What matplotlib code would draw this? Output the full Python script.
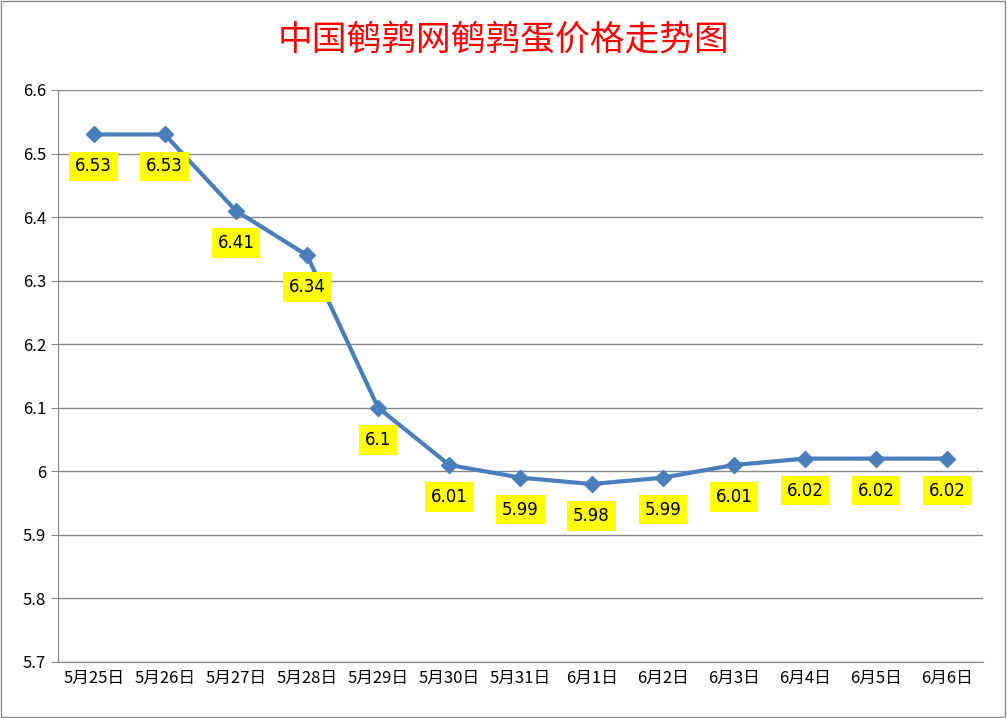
import matplotlib
matplotlib.use("Agg")
import matplotlib.pyplot as plt
from matplotlib.patches import Rectangle

plt.rcParams['font.family'] = ['Noto Sans CJK SC', 'DejaVu Sans']

dates = ["5月25日", "5月26日", "5月27日", "5月28日", "5月29日", "5月30日", "5月31日",
         "6月1日", "6月2日", "6月3日", "6月4日", "6月5日", "6月6日"]
prices = [6.53, 6.53, 6.41, 6.34, 6.1, 6.01, 5.99, 5.98, 5.99, 6.01, 6.02, 6.02, 6.02]
labels = ["6.53", "6.53", "6.41", "6.34", "6.1", "6.01", "5.99", "5.98", "5.99", "6.01", "6.02", "6.02", "6.02"]

fig = plt.figure(figsize=(10.07, 7.18), dpi=100)
ax = fig.add_axes([0.0576, 0.078, 0.9185, 0.7967])

x = list(range(len(dates)))
ax.plot(x, prices, color="#4a7ebb", lw=3, marker="D", ms=8, zorder=3)
for xi, yi, t in zip(x, prices, labels):
    ax.annotate(t, (xi, yi), xytext=(0, -23), textcoords="offset points",
                ha="center", va="center", fontsize=12, family="DejaVu Sans",
                bbox=dict(boxstyle="square,pad=0.35", fc="#ffff00", ec="none"), zorder=4)

ax.set_xlim(-0.5, len(dates) - 0.5)
ax.set_ylim(5.7, 6.6)
ax.set_yticks([5.7, 5.8, 5.9, 6.0, 6.1, 6.2, 6.3, 6.4, 6.5, 6.6])
ax.set_yticklabels(["5.7", "5.8", "5.9", "6", "6.1", "6.2", "6.3", "6.4", "6.5", "6.6"], fontsize=12)
ax.set_xticks(x)
ax.set_xticklabels(dates, fontsize=12)
ax.yaxis.grid(True, color="#888888", lw=1)
ax.set_axisbelow(True)
for s in ["top", "right"]:
    ax.spines[s].set_visible(False)
for s in ["left", "bottom"]:
    ax.spines[s].set_color("#888888")
ax.tick_params(axis="x", length=0, pad=6)
ax.tick_params(axis="y", length=5, color="#888888")

fig.text(0.5, 0.945, "中国鹌鹑网鹌鹑蛋价格走势图", color="#ff0000", fontsize=25,
         ha="center", va="center")
fig.patches.append(Rectangle((0.001, 0.001), 0.997, 0.997, transform=fig.transFigure,
                             fill=False, ec="#888888", lw=1))

fig.savefig("out.png", dpi=100)
